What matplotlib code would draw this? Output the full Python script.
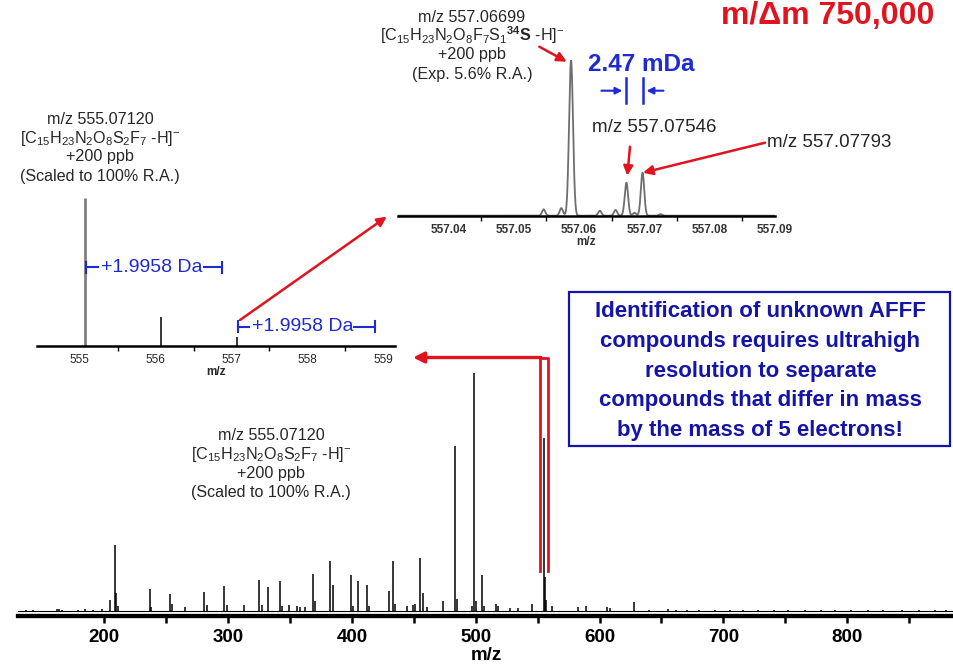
import numpy as np
import matplotlib
matplotlib.use("Agg")
import matplotlib.pyplot as plt
from matplotlib.patches import Rectangle

plt.rcParams["font.family"] = ["Liberation Sans", "DejaVu Sans"]
plt.rcParams["mathtext.fontset"] = "custom"
plt.rcParams["mathtext.rm"] = "Liberation Sans"
plt.rcParams["mathtext.bf"] = "Liberation Sans:bold"
plt.rcParams["mathtext.it"] = "Liberation Sans:italic"

# full scan spectrum: centroid m/z and relative abundance (%)
scan_mz = [137.0, 142.7, 161.5, 163.5, 165.5, 179.0, 184.4, 191.0, 197.9,
           204.7, 208.4, 209.4, 211.0, 236.9, 238.0, 252.8, 254.8, 265.0,
           280.5, 283.2, 296.4, 298.8, 312.8, 325.0, 327.4, 332.5, 341.7,
           343.5, 349.0, 355.4, 358.0, 362.0, 368.6, 370.2, 382.6, 385.0,
           399.3, 401.0, 404.7, 412.2, 414.0, 429.7, 433.0, 435.0, 444.3,
           449.6, 451.0, 455.0, 457.4, 460.4, 473.6, 483.3, 484.6, 496.8,
           498.9, 500.2, 505.3, 507.0, 516.4, 517.6, 527.7, 534.4, 545.7,
           555.07, 556.07, 557.07, 561.9, 582.9, 589.0, 605.8, 608.5, 627.9,
           640.0, 655.3, 662.0, 671.0, 680.0, 693.0, 705.0, 716.0, 728.0,
           741.0, 752.0, 766.0, 779.0, 790.0, 803.0, 817.0, 829.0, 844.0,
           858.0, 871.0, 880.0]
scan_ra = [0.5, 0.5, 0.6, 0.6, 0.5, 0.5, 0.6, 0.5, 0.6,
           4.5, 27.4, 7.4, 2.0, 9.1, 1.5, 7.2, 3.0, 1.7,
           7.9, 2.5, 10.4, 2.5, 2.4, 12.9, 2.4, 10.1, 12.5,
           2.0, 2.4, 2.0, 1.5, 1.5, 15.5, 4.0, 20.7, 11.0,
           15.0, 2.0, 12.6, 11.0, 2.0, 8.4, 21.0, 3.0, 2.0,
           2.5, 3.0, 22.2, 7.6, 1.5, 4.1, 69.0, 5.0, 2.0,
           100.0, 4.0, 14.8, 2.0, 3.0, 2.0, 1.0, 1.2, 3.0,
           72.6, 14.3, 4.4, 2.0, 1.4, 1.8, 1.4, 1.0, 3.5,
           0.5, 0.7, 0.5, 0.4, 0.5, 0.4, 0.5, 0.4, 0.4,
           0.5, 0.4, 0.4, 0.5, 0.4, 0.4, 0.4, 0.5, 0.4,
           0.4, 0.4, 0.4]
scan_ticks = [200, 300, 400, 500, 600, 700, 800]

# isotope cluster of m/z 555 at unit resolution
cluster_mz = [555.0712, 556.0745, 557.0670]
cluster_ra = [100.0, 19.7, 6.1]
cluster_colors = ["#7f7f7f", "black", "black"]
cluster_ticks = [555, 556, 557, 558, 559]

# fine structure of the M+2 peak at m/dm 750,000
fine_labels = [557.06699, 557.07546, 557.07793]
fine_ra = [100.0, 21.2, 27.6]
fine_shift = -0.0082
minor_mz = [557.0546, 557.0573, 557.0632, 557.0656, 557.0685, 557.0725]
minor_ra = [4.1, 4.9, 3.2, 3.7, 1.9, 1.0]
fine_ticks = [557.04, 557.05, 557.06, 557.07, 557.08, 557.09]

W, H = 954, 672
RED = "#e0141e"
BLUE = "#1f2ad2"
NAVY = "#1414a8"
DARK = "#262626"

fig = plt.figure(figsize=(W / 100, H / 100), dpi=100)


def px_box(left, top, right, bottom):
    return [left / W, 1 - bottom / H, (right - left) / W, (bottom - top) / H]


def only_bottom(ax, lw):
    for side in ("top", "left", "right"):
        ax.spines[side].set_visible(False)
    ax.spines["bottom"].set_linewidth(lw)
    ax.set_yticks([])
    ax.patch.set_alpha(0)


# main spectrum
ax = fig.add_axes(px_box(18, 372.7, W, 616))
ax.vlines(scan_mz, 0, scan_ra, color="black", lw=1.1)
ax.axhline(0, color="black", lw=0.8)
ax.set_xlim(130.3, 886.3)
ax.set_ylim(-2.23, 100)
only_bottom(ax, 3.1)
ax.set_xticks(scan_ticks)
ax.set_xticks([t + 50 for t in scan_ticks], minor=True)
ax.tick_params(axis="x", which="both", direction="out", length=5, width=1.8,
               labelsize=13.5, pad=4)
for lab in ax.get_xticklabels():
    lab.set_fontweight("bold")
ax.set_xlabel("m/z", fontsize=13.5, fontweight="bold", labelpad=1)

# unit resolution inset
ax1 = fig.add_axes(px_box(37.3, 198.3, 395, 345.7))
for m, r, c in zip(cluster_mz, cluster_ra, cluster_colors):
    ax1.vlines(m, 0, r, color=c, lw=2.0 if c != "black" else 1.1)
ax1.set_xlim(554.44, 559.155)
ax1.set_ylim(0, 100)
only_bottom(ax1, 1.8)
ax1.set_xticks(cluster_ticks)
ax1.set_xticks([t + 0.5 for t in cluster_ticks[:-1]], minor=True)
ax1.tick_params(axis="x", which="major", length=0, labelsize=8.5, pad=6,
                labelcolor=DARK)
ax1.tick_params(axis="x", which="minor", direction="out", length=3.5, width=1)
ax1.set_xlabel("m/z", fontsize=8.5, fontweight="bold", labelpad=0, color=DARK)

# ultrahigh resolution inset, profile built from the peak list
ax2 = fig.add_axes(px_box(398, 60, 775, 215.7))
grid = np.linspace(557.0323, 557.0900, 4000)
centers = [m + fine_shift for m in fine_labels] + minor_mz
heights = fine_ra + minor_ra
widths = [0.00030, 0.00026, 0.00026] + [0.00025] * len(minor_mz)
profile = np.zeros_like(grid)
for c, h, s in zip(centers, heights, widths):
    profile += h * np.exp(-0.5 * ((grid - c) / s) ** 2)
ax2.plot(grid, profile, color="#6e6e6e", lw=1.3)
ax2.set_xlim(557.03231, 557.0900)
ax2.set_ylim(0, 100)
only_bottom(ax2, 1.8)
ax2.set_xticks(fine_ticks)
ax2.set_xticklabels([f"{t:.2f}" for t in fine_ticks])
ax2.set_xticks([557.045, 557.055, 557.065, 557.075, 557.085, 557.09], minor=True)
ax2.tick_params(axis="x", which="major", length=0, labelsize=8.5, pad=6,
                labelcolor="#333333")
ax2.tick_params(axis="x", which="minor", direction="out", length=3.5, width=1)
for lab in ax2.get_xticklabels():
    lab.set_fontweight("bold")
ax2.set_xlabel("m/z", fontsize=8.5, fontweight="bold", labelpad=0, color="#333333")

# overlay in pixel coordinates for labels and arrows
ov = fig.add_axes([0, 0, 1, 1])
ov.set_xlim(0, W)
ov.set_ylim(H, 0)
ov.axis("off")
ov.patch.set_alpha(0)

formula_555 = r"[C$_{15}$H$_{23}$N$_2$O$_8$S$_2$F$_7$ -H]$^{-}$"
formula_557 = r"[C$_{15}$H$_{23}$N$_2$O$_8$F$_7$S$_1$$^{\mathbf{34}}$$\mathbf{S}$ -H]$^{-}$"


def block(x, y0, lines, size=11.6):
    for i, s in enumerate(lines):
        ov.text(x, y0 + 19 * i, s, ha="center", va="baseline", fontsize=size,
                color=DARK)


block(100, 123.5, ["m/z 555.07120", formula_555, "+200 ppb", "(Scaled to 100% R.A.)"])
block(271, 440, ["m/z 555.07120", formula_555, "+200 ppb", "(Scaled to 100% R.A.)"])
block(472, 21.5, ["m/z 557.06699", formula_557, "+200 ppb", "(Exp. 5.6% R.A.)"])

ov.text(654, 132, "m/z 557.07546", ha="center", va="baseline", fontsize=13.5, color=DARK)
ov.text(767, 147, "m/z 557.07793", ha="left", va="baseline", fontsize=13.5, color=DARK)
ov.text(641, 70.7, "2.47 mDa", ha="center", va="baseline", fontsize=17.5,
        fontweight="bold", color=BLUE)
ov.text(828, 24, "m/\u0394m 750,000", ha="center", va="baseline", fontsize=23,
        fontweight="bold", color=RED)

red_arrow = dict(arrowstyle="-|>", color=RED, lw=1.8, mutation_scale=14,
                 shrinkA=0, shrinkB=0)
ov.annotate("", xy=(566.7, 61.7), xytext=(539.3, 46.7), arrowprops=red_arrow)
ov.annotate("", xy=(627.3, 175.7), xytext=(630, 146.7), arrowprops=red_arrow)
ov.annotate("", xy=(643, 172.7), xytext=(765, 142.7), arrowprops=red_arrow)
ov.annotate("", xy=(386.7, 216.7), xytext=(240, 320), arrowprops=red_arrow)

# bracket from the main spectrum up to the unit resolution inset
ov.plot([540, 540], [571, 357.5], color=RED, lw=2)
ov.plot([548, 548, 540], [571, 357.5, 357.5], color=RED, lw=2)
ov.annotate("", xy=(413, 357.5), xytext=(541, 357.5),
            arrowprops=dict(arrowstyle="-|>", color=RED, lw=2.4,
                            mutation_scale=16, shrinkA=0, shrinkB=0))

# mass difference markers lined up with the two resolved peaks
to_px = lambda m: ax2.transData.transform((m, 0))[0]
x_a = to_px(fine_labels[1] + fine_shift)
x_b = to_px(fine_labels[2] + fine_shift)
blue_arrow = dict(arrowstyle="-|>", color=BLUE, lw=1.5, mutation_scale=10,
                  shrinkA=0, shrinkB=0)
ov.plot([x_a, x_a], [78, 103], color=BLUE, lw=1.8)
ov.plot([x_b, x_b], [78, 103], color=BLUE, lw=1.8)
ov.annotate("", xy=(x_a - 4, 90.7), xytext=(x_a - 25, 90.7), arrowprops=blue_arrow)
ov.annotate("", xy=(x_b + 4, 90.7), xytext=(x_b + 21, 90.7), arrowprops=blue_arrow)


def da_bracket(x1, x2, y, tx0, tx1):
    ov.plot([x1, x1], [y - 5.5, y + 5.5], color=BLUE, lw=1.5)
    ov.plot([x2, x2], [y - 5.5, y + 5.5], color=BLUE, lw=1.5)
    ov.plot([x1, tx0 - 4], [y, y], color=BLUE, lw=1.5)
    ov.plot([tx1 + 2, x2], [y, y], color=BLUE, lw=1.5)
    ov.text((tx0 + tx1) / 2, y, "+1.9958 Da", ha="center", va="center",
            fontsize=14, color=BLUE)


da_bracket(86, 221.7, 267.3, 101.7, 201.7)
da_bracket(238.3, 375, 326.7, 253, 351.7)

# message box
ov.add_patch(Rectangle((569.3, 291.7), 950 - 569.3, 445.7 - 291.7, fill=False,
                       edgecolor=NAVY, lw=1.6))
box_lines = ["Identification of unknown AFFF",
             "compounds requires ultrahigh",
             "resolution to separate",
             "compounds that differ in mass",
             "by the mass of 5 electrons!"]
for i, s in enumerate(box_lines):
    ov.text(760.5, 317.3 + 29.6 * i, s, ha="center", va="baseline",
            fontsize=16, fontweight="bold", color=NAVY)

fig.savefig("out.png", dpi=100)
